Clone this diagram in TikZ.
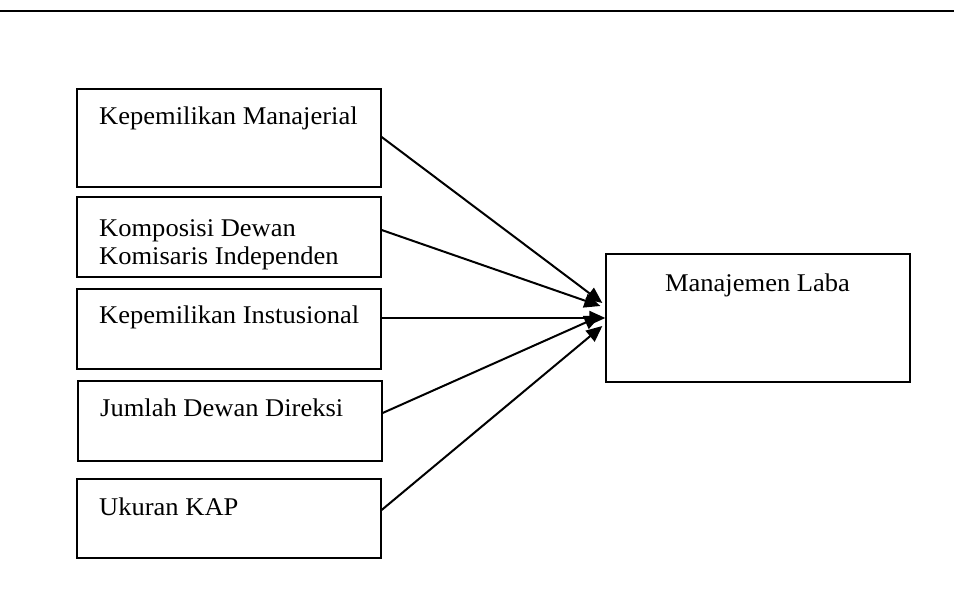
\documentclass[tikz,border=0pt]{standalone}
\usepackage{fontspec}
\setmainfont{Liberation Serif}[FakeStretch=1.04]
\usetikzlibrary{arrows.meta}
\tikzset{
  box/.style={draw, line width=1.3pt, rectangle, inner sep=0pt},
  lbl/.style={anchor=base west, inner sep=0pt, align=left, font=\fontsize{25.5}{28}\selectfont},
  clbl/.style={anchor=base, inner sep=0pt, font=\fontsize{25.5}{28}\selectfont},
  arr/.style={line width=2pt, -{Triangle[length=16pt,width=14pt]}}
}
\begin{document}
\begin{tikzpicture}[x=1pt,y=-1pt]
\useasboundingbox (0,0) rectangle (954,601);
\draw[line width=2.2pt] (0,11) coordinate (tl) -- (954,11) coordinate (tr);
% left boxes
\node[box, minimum width=304pt, minimum height=98pt] (b1) at (229,138) {};
\node[box, minimum width=304pt, minimum height=80pt] (b2) at (229,237) {};
\node[box, minimum width=304pt, minimum height=80pt] (b3) at (229,329) {};
\node[box, minimum width=304pt, minimum height=80pt] (b4) at (230,421) {};
\node[box, minimum width=304pt, minimum height=79pt] (b5) at (229,518.5) {};
\node[box, minimum width=304pt, minimum height=128pt] (ml) at (758,318) {};
% labels
\node[lbl] (t1) at (99,125) {Kepemilikan Manajerial};
\node[lbl] (t2) at (99,265) {Komposisi Dewan\\Komisaris Independen};
\node[lbl] (t3) at (99,324) {Kepemilikan Instusional};
\node[lbl] (t4) at (100,417) {Jumlah Dewan Direksi};
\node[lbl] (t5) at (99,516) {Ukuran KAP};
\node[clbl] (t6) at (757.5,292) {Manajemen Laba};
% arrows
\draw[arr] ([yshift=1pt]b1.east) -- ([yshift=15pt,xshift=-3pt]ml.west);
\draw[arr] ([yshift=7pt]b2.east) -- ([yshift=12pt,xshift=-5pt]ml.west);
\draw[arr] ([yshift=11pt]b3.east) -- (ml.west);
\draw[arr] ([yshift=8pt]b4.east) -- ([yshift=2pt,xshift=-5pt]ml.west);
\draw[arr] ([yshift=8.5pt]b5.east) -- ([yshift=-8pt,xshift=-3pt]ml.west);
\end{tikzpicture}
\end{document}
